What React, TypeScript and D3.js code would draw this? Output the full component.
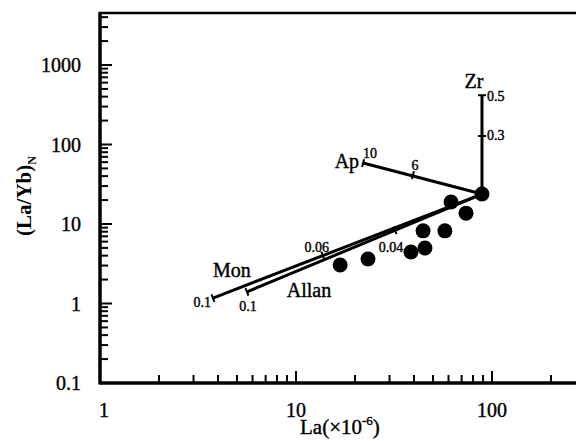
import React from 'react';
import * as d3 from 'd3';

const W = 576;
const H = 441;

// sample points: La (x) and (La/Yb)N (y)
const laValues = [16.8, 23.3, 38.6, 45.5, 44.5, 57.5, 73.7, 61.8, 88.9];
const lybValues = [3.05, 3.63, 4.45, 4.99, 8.2, 8.2, 13.7, 18.9, 23.8];

// axis tick labels
const xTickValues = [1, 10, 100];
const xTickLabels = ['1', '10', '100'];
const yTickValues = [0.1, 1, 10, 100, 1000];
const yTickLabels = ['0.1', '1', '10', '100', '1000'];

// fractional crystallization vectors (start at the most evolved sample)
const zrLine: [number, number][] = [[88.9, 23.8], [88.9, 417]];
const apLine: [number, number][] = [[88.9, 23.8], [22, 58.5]];
const monLine: [number, number][] = [[88.9, 23.8], [3.77, 1.17]];
const allanLine: [number, number][] = [[88.9, 23.8], [5.62, 1.4]];

// fraction marks along vectors
const zrMarks: [number, number][] = [[88.9, 128], [88.9, 417]];
const zrMarkLabels = ['0.3', '0.5'];
const apMarks: [number, number][] = [[39.5, 41.3], [22, 58.5]];
const apMarkLabels = ['6', '10'];
const monMarks: [number, number][] = [[13.7, 4.02], [3.77, 1.17]];
const monMarkLabels = ['0.06', '0.1'];
const allanMarks: [number, number][] = [[32, 8.3], [5.62, 1.4]];
const allanMarkLabels = ['0.04', '0.1'];

const FONT = '"Liberation Serif", "Times New Roman", serif';

export default function App() {
  const x = d3.scaleLog().domain([1, Math.pow(10, 480 / 196)]).range([100, 580]);
  const y = d3.scaleLog().domain([0.1, Math.pow(10, 370 / 79.5 - 1)]).range([383, 13]);
  const [x0, x1] = x.range();
  const [y0, y1] = y.range();

  const isMajor = (v: number) => Math.abs(Math.log10(v) - Math.round(Math.log10(v))) < 1e-6;
  const xTicks = x.ticks();
  const yTicks = y.ticks();

  const line = d3.line<[number, number]>().x(d => x(d[0])).y(d => y(d[1]));

  const perp = (ln: [number, number][], p: [number, number], len: number) => {
    const ax = x(ln[0][0]), ay = y(ln[0][1]);
    const bx = x(ln[1][0]), by = y(ln[1][1]);
    const dx = bx - ax, dy = by - ay;
    const L = Math.hypot(dx, dy);
    const nx = -dy / L, ny = dx / L;
    const px = x(p[0]), py = y(p[1]);
    return `M${px - nx * len},${py - ny * len}L${px + nx * len},${py + ny * len}`;
  };

  const vectors = [
    { ln: zrLine, marks: zrMarks },
    { ln: apLine, marks: apMarks },
    { ln: monLine, marks: monMarks },
    { ln: allanLine, marks: allanMarks },
  ];

  const px = (p: [number, number]) => [x(p[0]), y(p[1])];
  const [zrTopX, zrTopY] = px(zrLine[1]);
  const [zr3X, zr3Y] = px(zrMarks[0]);
  const [apEndX, apEndY] = px(apLine[1]);
  const [ap6X, ap6Y] = px(apMarks[0]);
  const [monEndX, monEndY] = px(monLine[1]);
  const [mon6X, mon6Y] = px(monMarks[0]);
  const [alEndX, alEndY] = px(allanLine[1]);
  const [al4X, al4Y] = px(allanMarks[0]);

  return (
    <svg width={W} height={H} style={{ position: 'absolute', left: 0, top: 0, background: '#fff' }}
      fontFamily={FONT}>
      <rect x={0} y={0} width={W} height={H} fill="#fff" />
      {/* frame */}
      <line x1={x0} y1={y0} x2={x1} y2={y0} stroke="#000" strokeWidth={3.5} />
      <line x1={x0} y1={y0 + 1.5} x2={x0} y2={y1} stroke="#000" strokeWidth={3.5} />
      <line x1={x0 - 1.5} y1={y1} x2={x1} y2={y1} stroke="#000" strokeWidth={2.5} />

      {/* x ticks */}
      {xTicks.map((t, i) => (
        <line key={'xt' + i} x1={x(t)} x2={x(t)} y1={y0} y2={y0 - (isMajor(t) ? 12 : 8)}
          stroke="#000" strokeWidth={2} />
      ))}
      <g stroke="#000" strokeWidth={0.4}>
        {xTickValues.map((t, i) => (
          <text key={'xl' + i} x={x(t) + (i === 0 ? 4 : 0)} y={417} textAnchor="middle" fontSize={20}>
            {xTickLabels[i]}
          </text>
        ))}
      </g>

      {/* y ticks */}
      {yTicks.map((t, i) => (
        <line key={'yt' + i} x1={x0} x2={x0 + (isMajor(t) ? 12 : 8)} y1={y(t)} y2={y(t)}
          stroke="#000" strokeWidth={2} />
      ))}
      <g stroke="#000" strokeWidth={0.4}>
        {yTickValues.map((t, i) => (
          <text key={'yl' + i} x={81} y={y(t)} textAnchor="end" dominantBaseline="central" fontSize={20}>
            {yTickLabels[i]}
          </text>
        ))}
      </g>

      {/* axis titles */}
      <text x={300} y={434} fontSize={21} stroke="#000" strokeWidth={0.4}>
        La(×10<tspan fontSize={13} dy={-9}>-6</tspan><tspan dy={9}>)</tspan>
      </text>
      <text transform="translate(31,196) rotate(-90)" textAnchor="middle" fontSize={21} fontWeight="bold">
        (La/Yb)<tspan fontSize={12} dy={5}>N</tspan>
      </text>

      {/* vectors */}
      {vectors.map((v, i) => (
        <g key={'v' + i}>
          <path d={line(v.ln) || ''} fill="none" stroke="#000" strokeWidth={3} />
          {v.marks.map((m, j) => (
            <path key={j} d={perp(v.ln, m, 4)} stroke="#000" strokeWidth={2} />
          ))}
        </g>
      ))}

      {/* sample points */}
      {laValues.map((la, i) => (
        <circle key={'p' + i} cx={x(la)} cy={y(lybValues[i])} r={7.5} fill="#000" />
      ))}

      {/* vector labels */}
      <g stroke="#000" strokeWidth={0.4}>
        <text x={zrTopX - 8} y={zrTopY - 7} textAnchor="middle" fontSize={20}>Zr</text>
        <text x={zrTopX + 5} y={zrTopY + 1} dominantBaseline="central" fontSize={14}>{zrMarkLabels[1]}</text>
        <text x={zr3X + 5} y={zr3Y} dominantBaseline="central" fontSize={14}>{zrMarkLabels[0]}</text>

        <text x={apEndX - 4} y={apEndY + 5} textAnchor="end" fontSize={20}>Ap</text>
        <text x={apEndX} y={apEndY - 5} fontSize={14}>{apMarkLabels[1]}</text>
        <text x={ap6X + 2} y={ap6Y - 5} textAnchor="middle" fontSize={14}>{apMarkLabels[0]}</text>

        <text x={monEndX + 19} y={monEndY - 21} textAnchor="middle" fontSize={20}>Mon</text>
        <text x={monEndX - 2} y={monEndY + 9} textAnchor="end" fontSize={14}>{monMarkLabels[1]}</text>
        <text x={mon6X - 6} y={mon6Y - 3} textAnchor="middle" fontSize={14}>{monMarkLabels[0]}</text>

        <text x={alEndX + 62} y={alEndY + 5} textAnchor="middle" fontSize={20}>Allan</text>
        <text x={alEndX + 1} y={alEndY + 19} textAnchor="middle" fontSize={14}>{allanMarkLabels[1]}</text>
        <text x={al4X - 4} y={al4Y + 22} textAnchor="middle" fontSize={14}>{allanMarkLabels[0]}</text>
      </g>
    </svg>
  );
}
